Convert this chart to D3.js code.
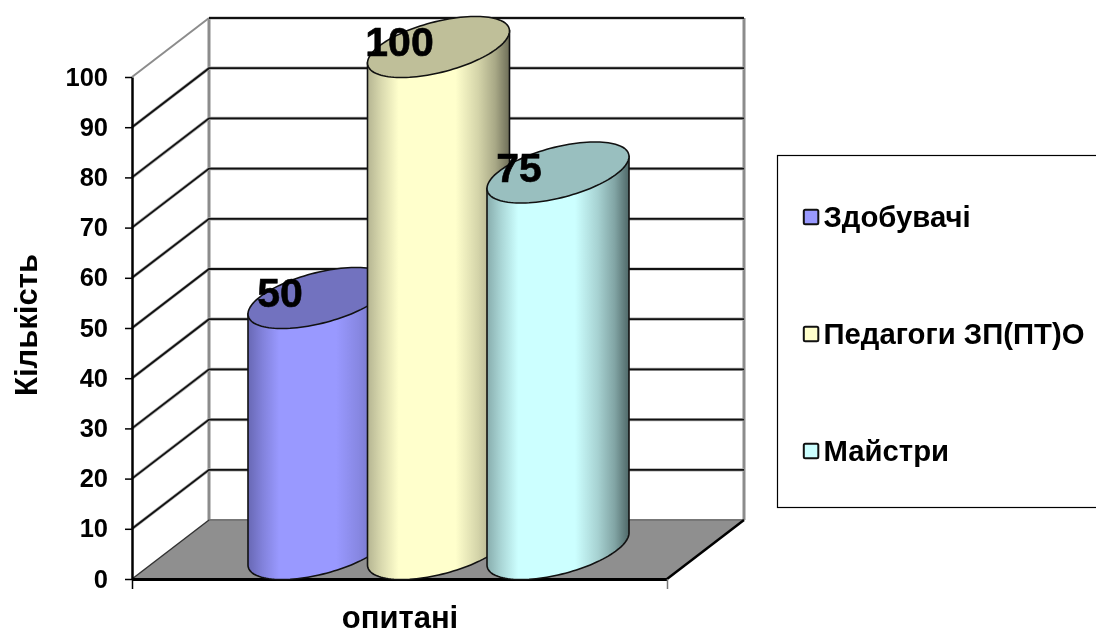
<!DOCTYPE html>
<html lang="uk">
<head>
    <meta charset="utf-8">
    <title>Кількість опитаних</title>
    <script src="https://d3js.org/d3.v7.min.js"></script>
    <style>
        html, body {
            margin: 0;
            background: #fff;
        }
        svg {
            display: block;
            filter: blur(0.35px);
        }
        text {
            font-family: "Liberation Sans", Arial, sans-serif;
            font-weight: bold;
            fill: #000;
        }
        .tick-label {
            font-size: 25.5px;
        }
        .title {
            font-size: 31px;
        }
        .legend-label {
            font-size: 29.3px;
        }
        .value-label {
            font-size: 41px;
            stroke: #000;
            stroke-width: 0.6px;
        }
    </style>
</head>
<body>
<svg class="chart" width="1096" height="630"></svg>

<script>
    // chart data
    const categories = ["Здобувачі", "Педагоги ЗП(ПТ)О", "Майстри"];
    const values = [50, 100, 75];
    const yTicks = [0, 10, 20, 30, 40, 50, 60, 70, 80, 90, 100];
    const colors = ["#9999ff", "#ffffcc", "#ccffff"];
    const topColors = ["#7272bf", "#bfbf99", "#99bfbf"];
    const sideDark = ["#5c5c9e", "#6e6e58", "#4f6868"];
    const sideLeft = ["#6868b4", "#b5b592", "#88adad"];

    // the 3d box
    const front = {left: 132, right: 667, top: 77, bottom: 579};
    const depth = {x: 77, y: -59};

    // one cylinder: half width, and the tilted ellipse of its caps
    const cyl = {a: 71, tilt: 16, b: 26};
    const capDrop = 30; // front axis bottom to cap centre

    const y = d3.scaleLinear().domain([0, 100]).range([front.bottom, front.top]);
    const x = d3.scalePoint().domain(categories).range([319, 558]);
    const xAxisScale = d3.scaleLinear().domain([0, 1]).range([front.left, front.right]);

    const svg = d3.select("svg.chart");
    const defs = svg.append("defs");

    // floor
    svg.append("path")
        .attr("d", `M${front.left},${front.bottom}L${front.left + depth.x},${front.bottom + depth.y}` +
                   `L${front.right + depth.x},${front.bottom + depth.y}L${front.right},${front.bottom}Z`)
        .attr("fill", "#8f8f8f");

    // walls
    const gray = "#8c8c8c";
    svg.append("line")
        .attr("x1", front.left + depth.x).attr("x2", front.left + depth.x)
        .attr("y1", front.top + depth.y).attr("y2", front.bottom + depth.y)
        .attr("stroke", gray).attr("stroke-width", 3);
    svg.append("line")
        .attr("x1", front.right + depth.x).attr("x2", front.right + depth.x)
        .attr("y1", front.top + depth.y).attr("y2", front.bottom + depth.y)
        .attr("stroke", gray).attr("stroke-width", 3);
    svg.append("line")
        .attr("x1", front.left + depth.x).attr("x2", front.right + depth.x)
        .attr("y1", front.bottom + depth.y).attr("y2", front.bottom + depth.y)
        .attr("stroke", "#777").attr("stroke-width", 2);
    svg.append("line")
        .attr("x1", front.left).attr("x2", front.left + depth.x)
        .attr("y1", front.top).attr("y2", front.top + depth.y)
        .attr("stroke", gray).attr("stroke-width", 2);

    // gridlines, side wall then back wall
    const grid = svg.append("g").attr("fill", "none");
    yTicks.forEach(function(t) {
        const line = `M${front.left},${y(t)}L${front.left + depth.x},${y(t) + depth.y}` +
                     `L${front.right + depth.x},${y(t) + depth.y}`;
        if (t === 0) return;
        const d = t === 100 ? `M${front.left + depth.x},${y(t) + depth.y}L${front.right + depth.x},${y(t) + depth.y}` : line;
        grid.append("path").attr("d", d).attr("stroke", "#aaa").attr("stroke-width", 3.2);
        grid.append("path").attr("d", d).attr("stroke", "#111").attr("stroke-width", 1.8);
    });

    // floor front-side edges
    svg.append("line")
        .attr("x1", front.left).attr("x2", front.left + depth.x)
        .attr("y1", front.bottom).attr("y2", front.bottom + depth.y)
        .attr("stroke", "#333").attr("stroke-width", 1.5);
    svg.append("line")
        .attr("x1", front.right).attr("x2", front.right + depth.x)
        .attr("y1", front.bottom).attr("y2", front.bottom + depth.y)
        .attr("stroke", "#000").attr("stroke-width", 2.5);

    // axes
    const yAxis = d3.axisLeft(y).tickValues(yTicks).tickSize(7).tickSizeOuter(0).tickPadding(17);
    const yG = svg.append("g")
        .attr("transform", `translate(${front.left},0)`)
        .call(yAxis);
    yG.select(".domain").attr("stroke", "#000").attr("stroke-width", 2.5);
    yG.selectAll(".tick line").attr("stroke", "#000").attr("stroke-width", 1.5);
    yG.selectAll(".tick text").attr("class", "tick-label").attr("fill", "#000");

    const xAxis = d3.axisBottom(xAxisScale).tickValues([0, 1]).tickSize(10).tickSizeOuter(0).tickFormat("");
    const xG = svg.append("g")
        .attr("transform", `translate(0,${front.bottom})`)
        .call(xAxis);
    xG.select(".domain").attr("stroke", "#000").attr("stroke-width", 3);
    xG.selectAll(".tick line").attr("stroke", (d, i) => i ? "#777" : "#000").attr("stroke-width", 1.5);

    // cylinders
    function capPoint(cx, cy, t) {
        return [cx + cyl.a * Math.cos(t), cy - cyl.tilt * Math.cos(t) + cyl.b * Math.sin(t)];
    }
    const line = d3.line();
    const baseY = front.bottom - capDrop;

    categories.forEach(function(name, i) {
        const cx = x(name);
        const topY = baseY - (y(0) - y(values[i]));

        const grad = defs.append("linearGradient").attr("id", "side" + i);
        const mix = d3.interpolateRgb(colors[i], sideDark[i]);
        [[0, sideLeft[i]], [0.1, d3.interpolateRgb(colors[i], sideLeft[i])(0.5)], [0.22, colors[i]],
         [0.62, colors[i]], [0.78, mix(0.3)], [0.9, mix(0.6)], [1, sideDark[i]]].forEach(function(s) {
            grad.append("stop").attr("offset", s[0]).attr("stop-color", s[1]);
        });

        // body: down the left, round the front of the base, up the right
        const front_half = d3.range(0, 61).map(k => capPoint(cx, baseY, Math.PI * (60 - k) / 60));
        const topRight = capPoint(cx, topY, 0);
        const topLeft = capPoint(cx, topY, Math.PI);
        const body = [topLeft].concat(front_half, [topRight]);
        svg.append("path")
            .attr("d", line(body) + "Z")
            .attr("fill", `url(#side${i})`)
            .attr("stroke", "#111")
            .attr("stroke-width", 1.6);

        // top cap
        const cap = d3.range(0, 120).map(k => capPoint(cx, topY, 2 * Math.PI * k / 120));
        svg.append("path")
            .attr("d", line(cap) + "Z")
            .attr("fill", topColors[i])
            .attr("stroke", "#111")
            .attr("stroke-width", 1.6);
    });

    // value labels go on top of every cylinder
    categories.forEach(function(name, i) {
        svg.append("text")
            .attr("class", "value-label")
            .attr("text-anchor", "middle")
            .attr("x", x(name) - 39)
            .attr("y", baseY - (y(0) - y(values[i])) + 9)
            .text(values[i]);
    });

    // axis titles
    svg.append("text")
        .attr("class", "title")
        .attr("text-anchor", "middle")
        .attr("transform", "translate(36.5,325) rotate(-90)")
        .text("Кількість");
    svg.append("text")
        .attr("class", "title")
        .attr("text-anchor", "middle")
        .attr("x", 400)
        .attr("y", 628)
        .text("опитані");

    // legend
    svg.append("rect")
        .attr("x", 777.5).attr("y", 155.5)
        .attr("width", 330).attr("height", 352)
        .attr("fill", "#fff")
        .attr("stroke", "#000")
        .attr("stroke-width", 1.2);
    const legendY = d3.scalePoint().domain(categories).range([217, 451]);
    const entry = svg.selectAll("g.entry")
        .data(categories)
        .enter().append("g").attr("class", "entry")
        .attr("transform", d => `translate(803,${legendY(d)})`);
    entry.append("rect")
        .attr("x", 0.8).attr("y", -7.2)
        .attr("width", 14.5).attr("height", 14.5)
        .attr("rx", 1.5)
        .attr("fill", (d, i) => colors[i])
        .attr("stroke", "#111")
        .attr("stroke-width", 2);
    entry.append("text")
        .attr("class", "legend-label")
        .attr("x", 20.5)
        .attr("y", 10)
        .text(d => d);
</script>
</body>
</html>
